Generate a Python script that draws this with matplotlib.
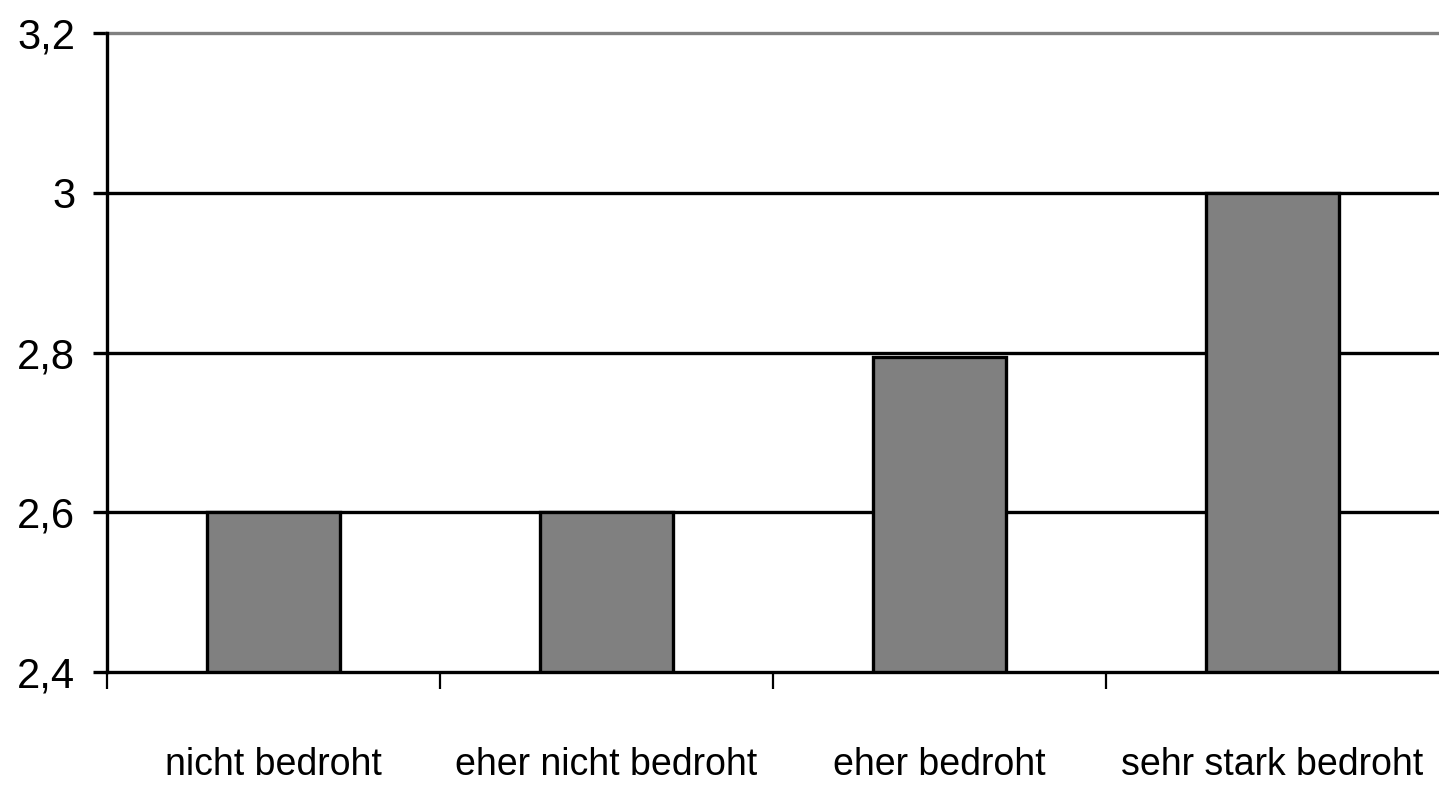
import matplotlib
matplotlib.use("Agg")
import matplotlib.pyplot as plt
from matplotlib import font_manager
import numpy as np

categories = ["nicht bedroht", "eher nicht bedroht", "eher bedroht", "sehr stark bedroht"]
values = [2.6, 2.6, 2.795, 3.0]
y_ticks = [2.4, 2.6, 2.8, 3.0, 3.2]
y_tick_labels = ["2,4", "2,6", "2,8", "3", "3,2"]

names = {f.name for f in font_manager.fontManager.ttflist}
family = "Liberation Sans Narrow" if "Liberation Sans Narrow" in names else "Liberation Sans"
plt.rcParams["font.family"] = [family, "DejaVu Sans"]

fig = plt.figure(figsize=(14.39, 7.91), dpi=100)
ax = fig.add_axes([0.0744, 0.1504, 0.9256, 0.8079])

x = np.arange(len(categories))
ax.bar(x, values, width=0.40, bottom=0, color="#808080", edgecolor="black",
       linewidth=2.4, zorder=3)

ax.set_ylim(2.4, 3.2)
ax.set_xlim(-0.5, len(categories) - 0.5)

# gridlines
for t in y_ticks[1:-1]:
    ax.axhline(t, color="black", linewidth=2.4, zorder=2)
ax.axhline(3.2, color="#808080", linewidth=2.4, zorder=2, clip_on=False)

for s in ["top", "right"]:
    ax.spines[s].set_visible(False)
ax.spines["left"].set_linewidth(2.4)
ax.spines["bottom"].set_linewidth(2.4)
ax.spines["left"].set_zorder(4)
ax.spines["bottom"].set_zorder(4)

ax.set_yticks(y_ticks)
ax.set_yticklabels(y_tick_labels)
ax.tick_params(axis="y", length=10, width=2.4, pad=13, labelsize=30)

ax.set_xticks(x)
ax.set_xticklabels(categories)
ax.set_xticks(np.arange(-0.5, len(categories) - 0.5), minor=True)
ax.tick_params(axis="x", which="major", length=0, pad=54, labelsize=27)
ax.tick_params(axis="x", which="minor", length=12, width=1.6)

fig.savefig("out.png", dpi=100, facecolor="white")
